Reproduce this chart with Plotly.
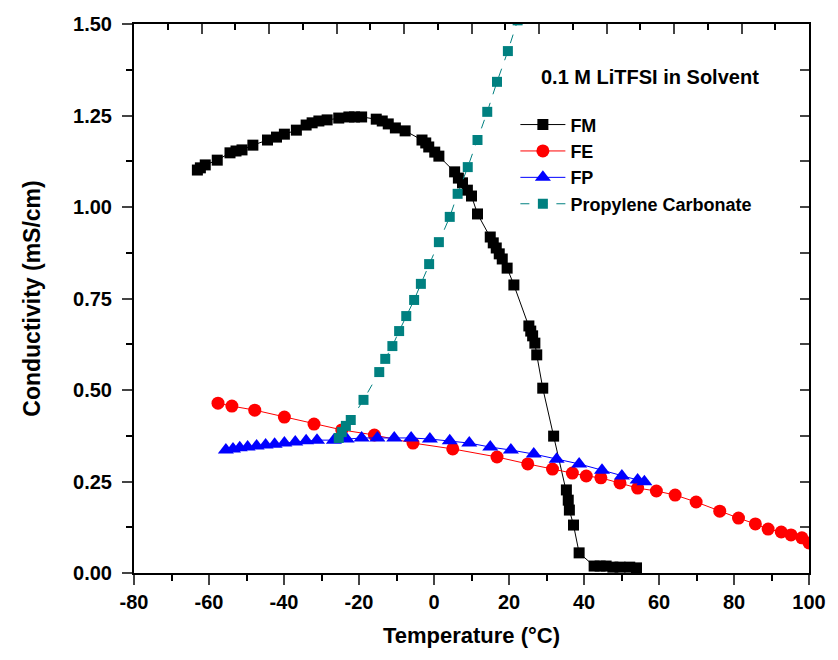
import plotly.graph_objects as go

# ---- data ----
fm_t = [-63.1, -62.3, -61.0, -57.8, -54.4, -52.8, -51.2, -48.3, -44.4, -42.0, -39.9, -36.7,
        -34.1, -32.5, -30.7, -28.5, -25.4, -22.7, -21.2, -19.3, -15.4, -13.8, -12.2, -10.3,
        -7.7, -3.2, -2.2, -1.4, 0.2, 1.3, 5.5, 6.5, 7.6, 8.9, 10.0, 11.6, 15.0, 15.8, 16.6,
        17.4, 18.2, 19.5, 21.3, 25.3, 25.8, 26.3, 26.9, 27.4, 29.0, 31.9, 35.3, 35.8, 36.1,
        37.2, 38.7, 42.7, 44.3, 45.9, 47.7, 49.6, 52.2, 54.0]
fm_s = [1.101, 1.107, 1.115, 1.128, 1.148, 1.153, 1.156, 1.169, 1.183, 1.191, 1.199, 1.210,
        1.224, 1.230, 1.235, 1.238, 1.243, 1.246, 1.246, 1.246, 1.240, 1.235, 1.227, 1.216,
        1.208, 1.183, 1.175, 1.164, 1.150, 1.139, 1.096, 1.079, 1.066, 1.046, 1.030, 0.981,
        0.918, 0.902, 0.888, 0.872, 0.858, 0.833, 0.787, 0.675, 0.661, 0.648, 0.628, 0.596,
        0.505, 0.374, 0.227, 0.199, 0.172, 0.131, 0.055, 0.019, 0.019, 0.019, 0.016, 0.016,
        0.016, 0.014]

fe_t = [-57.6, -53.9, -47.8, -39.9, -32.0, -24.6, -15.9, -5.6, 5.0, 16.8, 25.0, 31.6, 36.9,
        40.6, 44.5, 49.6, 54.3, 59.3, 64.3, 69.9, 76.2, 81.2, 85.7, 89.1, 92.6, 95.2, 98.1,
        100.0]
fe_s = [0.464, 0.456, 0.445, 0.426, 0.407, 0.391, 0.377, 0.355, 0.339, 0.317, 0.298, 0.284,
        0.273, 0.265, 0.260, 0.246, 0.232, 0.224, 0.213, 0.194, 0.169, 0.150, 0.134, 0.120,
        0.112, 0.104, 0.096, 0.082]

fp_t = [-55.5, -53.6, -51.8, -49.7, -47.3, -44.9, -42.5, -39.9, -37.0, -34.1, -31.2, -26.7,
        -23.3, -19.3, -15.1, -10.6, -6.1, -1.1, 4.2, 9.4, 15.0, 20.5, 26.6, 32.7, 38.7, 44.8,
        50.1, 54.3, 56.1]
fp_s = [0.336, 0.339, 0.342, 0.344, 0.347, 0.350, 0.352, 0.355, 0.358, 0.361, 0.363, 0.363,
        0.366, 0.369, 0.369, 0.369, 0.369, 0.366, 0.361, 0.355, 0.344, 0.336, 0.325, 0.311,
        0.298, 0.281, 0.265, 0.254, 0.249]

pc_t = [-25.4, -24.6, -23.5, -22.2, -18.8, -14.6, -13.0, -11.1, -9.3, -7.4, -5.3, -3.5, -1.3,
        1.3, 4.2, 6.3, 9.0, 11.6, 14.2, 16.8, 19.7, 22.3]
pc_s = [0.369, 0.385, 0.402, 0.418, 0.473, 0.549, 0.585, 0.620, 0.661, 0.702, 0.746, 0.790,
        0.844, 0.904, 0.973, 1.036, 1.109, 1.183, 1.260, 1.342, 1.426, 1.51]

x_tickvals = [-80, -60, -40, -20, 0, 20, 40, 60, 80, 100]
x_ticktext = ["-80", "-60", "-40", "-20", "0", "20", "40", "60", "80", "100"]
y_tickvals = [0.0, 0.25, 0.5, 0.75, 1.0, 1.25, 1.5]
y_ticktext = ["0.00", "0.25", "0.50", "0.75", "1.00", "1.25", "1.50"]

FONT = "Liberation Sans, Arial, sans-serif"

fig = go.Figure()
fig.add_trace(go.Scatter(x=fm_t, y=fm_s, name="FM", mode="lines+markers",
                         line=dict(color="black", width=1),
                         marker=dict(symbol="square", size=11, color="black")))
fig.add_trace(go.Scatter(x=fe_t, y=fe_s, name="FE", mode="lines+markers",
                         line=dict(color="#ff0000", width=1),
                         marker=dict(symbol="circle", size=13, color="#ff0000")))
fig.add_trace(go.Scatter(x=fp_t, y=fp_s, name="FP", mode="lines+markers",
                         line=dict(color="#0000ff", width=1),
                         marker=dict(symbol="triangle-up", size=14, color="#0000ff")))
fig.add_trace(go.Scatter(x=pc_t, y=pc_s, name="Propylene Carbonate", mode="lines+markers",
                         line=dict(color="#008080", width=1, dash="dash"),
                         marker=dict(symbol="square", size=10, color="#008080")))
# empty trace to create the mirrored top/right axes
fig.add_trace(go.Scatter(x=[], y=[], xaxis="x2", yaxis="y2", showlegend=False,
                         hoverinfo="skip"))

fig.update_layout(
    width=838, height=660,
    margin=dict(l=134, r=23, t=24, b=87),
    plot_bgcolor="white", paper_bgcolor="white",
    font=dict(family=FONT, size=20, color="black"),
    xaxis=dict(range=[-80, 100], showline=True, linecolor="black", linewidth=2,
               showgrid=False, zeroline=False, ticks="outside", ticklen=10, tickwidth=2,
               tickvals=x_tickvals, ticktext=x_ticktext,
               tickfont=dict(family=FONT, size=20, color="black", weight="bold"),
               minor=dict(dtick=10, tick0=-80, ticks="outside", ticklen=6, tickwidth=2,
                          tickcolor="black", showgrid=False),
               title=dict(text="<b>Temperature (°C)</b>", standoff=16,
                          font=dict(family=FONT, size=22, color="black"))),
    yaxis=dict(range=[0, 1.5], showline=True, linecolor="black", linewidth=2,
               showgrid=False, zeroline=False, ticks="outside", ticklen=10, tickwidth=2,
               tickvals=y_tickvals, ticktext=y_ticktext, ticklabelstandoff=6,
               tickfont=dict(family=FONT, size=20, color="black", weight="bold"),
               minor=dict(dtick=0.125, tick0=0, ticks="outside", ticklen=6, tickwidth=2,
                          tickcolor="black", showgrid=False),
               title=dict(text="<b>Conductivity (mS/cm)</b>", standoff=26,
                          font=dict(family=FONT, size=23, color="black"))),
    xaxis2=dict(overlaying="x", side="top", range=[-80, 100], showline=True,
                linecolor="black", linewidth=2, showgrid=False, zeroline=False,
                ticks="inside", ticklen=10, tickwidth=2, tick0=-80, dtick=18,
                showticklabels=False,
                minor=dict(dtick=9, tick0=-80, ticks="inside", ticklen=6, tickwidth=2,
                           tickcolor="black", showgrid=False)),
    yaxis2=dict(overlaying="y", side="right", range=[0, 1.5], showline=True,
                linecolor="black", linewidth=2, showgrid=False, zeroline=False,
                ticks="inside", ticklen=9, tickwidth=2, tick0=0, dtick=0.125,
                showticklabels=False),
    legend=dict(x=0.565, y=0.85, xanchor="left", yanchor="top",
                bgcolor="rgba(0,0,0,0)", borderwidth=0, itemwidth=45,
                font=dict(family=FONT, size=18, color="black", weight="bold"),
                tracegroupgap=0),
    annotations=[dict(text="<b>0.1 M LiTFSI in Solvent</b>", xref="paper", yref="paper",
                      x=0.764, y=0.9035, xanchor="center", yanchor="middle",
                      showarrow=False, font=dict(family=FONT, size=20, color="black"))],
)

fig.write_html("out.html")
